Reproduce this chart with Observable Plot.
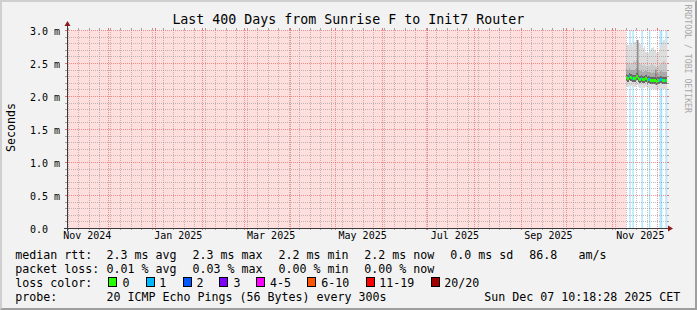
<!DOCTYPE html>
<html><head><meta charset="utf-8">
<script src="https://cdn.jsdelivr.net/npm/d3@7"></script>
<script src="https://cdn.jsdelivr.net/npm/@observablehq/plot@0.6"></script>
<style>
html,body{margin:0;padding:0;background:#f2f2f2;}
#wrap{position:relative;width:697px;height:310px;background:#f2f2f2;overflow:hidden;}
#wrap svg{position:absolute;left:0;top:0;}
#border{position:absolute;left:0;top:0;width:697px;height:310px;box-sizing:border-box;border-top:2px solid #cfcfcf;border-left:2px solid #cfcfcf;border-bottom:2px solid #9e9e9e;border-right:2px solid #9e9e9e;}
</style></head><body><div id="wrap"></div>
<script>
// ---------- text ----------
const title = "Last 400 Days from Sunrise F to Init7 Router";
const yTitle = "Seconds";
const watermark = "RRDTOOL / TOBI OETIKER";

// ---------- axes ----------
const timeDomain = [new Date("2024-11-03T12:00:00Z"), new Date("2025-12-07T09:18:28Z")];
const yTickValues = [0, 0.5, 1.0, 1.5, 2.0, 2.5, 3.0];
const yTickLabels = ["0.0", "0.5 m", "1.0 m", "1.5 m", "2.0 m", "2.5 m", "3.0 m"];
const xTickLabels = ["Nov 2024", "Jan 2025", "Mar 2025", "May 2025", "Jul 2025", "Sep 2025", "Nov 2025"];
const xTickLabelAt = ["2024-11-01T00:00Z", "2024-12-31T12:00Z", "2025-03-03T06:00Z", "2025-05-03T02:00Z",
                      "2025-07-03T10:00Z", "2025-09-03T14:00Z", "2025-11-03T17:00Z"];

// ---------- data (ms), one value per day, Nov 10 .. Dec 7 2025 ----------
const firstDay = "2025-11-10T00:00:00Z";
const median = [2.29, 2.28, 2.30, 2.29, 2.28, 2.27, 2.28, 2.30, 2.27, 2.26, 2.27, 2.26, 2.26, 2.27,
                2.25, 2.26, 2.25, 2.24, 2.25, 2.24, 2.23, 2.24, 2.25, 2.26, 2.25, 2.24, 2.25, 2.24];
const pingMax = [2.77, 2.77, 2.76, 2.79, 2.74, 2.82, 2.82, 2.85, 2.82, 2.79, 2.77, 2.73, 2.76, 2.67,
                 2.65, 2.65, 2.70, 2.73, 2.74, 2.70, 2.65, 2.67, 2.71, 2.77, 2.82, 2.85, 2.80, 2.77];
const ping90 = [2.52, 2.50, 2.51, 2.49, 2.50, 2.53, 2.52, 2.55, 2.51, 2.49, 2.50, 2.47, 2.48, 2.45,
                2.44, 2.46, 2.47, 2.48, 2.47, 2.45, 2.44, 2.45, 2.47, 2.49, 2.51, 2.53, 2.50, 2.49];
const ping75 = [2.41, 2.40, 2.42, 2.40, 2.40, 2.40, 2.41, 2.42, 2.39, 2.38, 2.39, 2.37, 2.38, 2.38,
                2.36, 2.37, 2.36, 2.35, 2.36, 2.35, 2.34, 2.35, 2.36, 2.38, 2.37, 2.36, 2.37, 2.36];
const ping25 = [2.23, 2.22, 2.24, 2.23, 2.22, 2.21, 2.22, 2.24, 2.21, 2.20, 2.21, 2.20, 2.20, 2.21,
                2.19, 2.20, 2.19, 2.18, 2.19, 2.18, 2.17, 2.18, 2.19, 2.20, 2.19, 2.18, 2.19, 2.18];
const pingMin = [2.15, 2.14, 2.16, 2.15, 2.14, 2.13, 2.14, 2.16, 2.13, 2.12, 2.13, 2.12, 2.12, 2.13,
                 2.11, 2.12, 2.11, 2.10, 2.11, 2.10, 2.09, 2.10, 2.11, 2.12, 2.11, 2.10, 2.11, 2.10];
const lostPings = [0, 0, 1, 0, 1, 0, 0, 0, 0, 0, 1, 0, 0, 0, 0, 1, 0, 0, 0, 0, 0, 0, 1, 1, 0, 0, 1, 0];
const spikeAt = ["2025-11-17T16:00Z", "2025-11-29T16:00Z"];
const spikeTop = [2.85, 2.40];
const spikeBottom = [2.32, 2.17];

// ---------- legend ----------
const lossColors = ["#26ff00", "#00b8ff", "#0059ff", "#7e00ff", "#ff00ff", "#ff5500", "#ff0000", "#a10000"];
const lossLabels = ["0", "1", "2", "3", "4-5", "6-10", "11-19", "20/20"];
const rttValues = [2.3, 2.3, 2.2, 2.2, 0.0];
const rttKinds = ["avg", "max", "min", "now", "sd"];
const rttRatio = "86.8";
const rttRatioUnit = "am/s";
const lossValues = [0.01, 0.03, 0.00, 0.00];
const lossKinds = ["avg", "max", "min", "now"];
const probeText = "20 ICMP Echo Pings (56 Bytes) every 300s";
const stampText = "Sun Dec 07 10:18:28 2025 CET";

// ---------- build ----------
const days = d3.utcDay.range(new Date(firstDay), timeDomain[1]);
const table = days.map((d, i) => ({
  d0: d, d1: i < days.length - 1 ? days[i + 1] : timeDomain[1],
  hi: pingMax[i], q90: ping90[i], q75: ping75[i], med: median[i], q25: ping25[i], lo: pingMin[i], loss: lostPings[i]
}));
const spikes = spikeAt.map((s, i) => ({date: new Date(s), top: spikeTop[i], bottom: spikeBottom[i]}));
const xMajor = d3.utcMonth.range(timeDomain[0], timeDomain[1]);
const xMinor = d3.utcMonday.range(timeDomain[0], timeDomain[1]).filter(d => d.getUTCDate() !== 1);
const yAll = d3.range(1, 31).map(i => i / 10);
const yMajor = yAll.filter(v => Math.abs(v * 2 - Math.round(v * 2)) < 1e-9);
const yMinor = yAll.filter(v => Math.abs(v * 2 - Math.round(v * 2)) > 1e-9);

const minorGrid = {stroke: "#8f8f8f", strokeOpacity: 0.55, strokeDasharray: "1,1", shapeRendering: "crispEdges"};
const majorGrid = {stroke: "#e85050", strokeOpacity: 0.6, strokeDasharray: "1,1", shapeRendering: "crispEdges"};
const mono = "DejaVu Sans Mono";

const plot = Plot.plot({
  width: 697, height: 310,
  marginLeft: 67, marginRight: 30, marginTop: 30, marginBottom: 82,
  style: {background: "transparent", fontFamily: mono, fontSize: "10px", color: "#000"},
  x: {type: "utc", domain: timeDomain, axis: null},
  y: {domain: [0, 3.0], axis: null},
  color: {type: "identity"},
  marks: [
    Plot.frame({fill: "#ffdede", stroke: "none"}),
    Plot.rect([table], {x1: t => t[0].d0, x2: () => timeDomain[1], fill: "#ffffff", shapeRendering: "crispEdges"}),
    Plot.ruleX(table.filter(r => r.loss > 0), {x: r => new Date((+r.d0 + +r.d1) / 2), stroke: "#a6e3fb", strokeWidth: 1.3}),
    Plot.rect(table, {x1: "d0", x2: "d1", y1: "lo", y2: "hi", fill: "#dddddd", shapeRendering: "crispEdges"}),
    Plot.rect(table, {x1: "d0", x2: "d1", y1: "q25", y2: "q90", fill: "#c9c9c9", shapeRendering: "crispEdges"}),
    Plot.rect(table, {x1: "d0", x2: "d1", y1: "q25", y2: "q75", fill: "#a9a9a9", shapeRendering: "crispEdges"}),
    Plot.ruleX(spikes, {x: "date", y1: "bottom", y2: "top", stroke: "#6a6a6a", strokeWidth: 1}),
    Plot.ruleY(table, {x1: "d0", x2: "d1", y: "med", stroke: "#676767", strokeWidth: 7, shapeRendering: "crispEdges"}),
    Plot.ruleY(table, {x1: "d0", x2: "d1", y: "med", stroke: r => lossColors[r.loss], strokeWidth: 3, shapeRendering: "crispEdges"}),
    Plot.ruleY(yMinor, minorGrid),
    Plot.ruleX(xMinor, minorGrid),
    Plot.ruleY(yMajor, majorGrid),
    Plot.ruleX(xMajor, majorGrid),
    Plot.ruleY([0], {stroke: "#3a3a3a", shapeRendering: "crispEdges"}),
    Plot.ruleX([timeDomain[0]], {stroke: "#3a3a3a", shapeRendering: "crispEdges"}),
    Plot.text(yTickValues, {y: d => d, text: (d, i) => yTickLabels[i], frameAnchor: "left", textAnchor: "start",
      dx: -37.5, dy: 1.1, fontSize: 10, fontFamily: mono, fill: "#000"}),
    Plot.text(xTickLabelAt, {x: d => new Date(d), text: (d, i) => xTickLabels[i], frameAnchor: "bottom", textAnchor: "start",
      dx: -0.6, dy: 10.1, fontSize: 10, fontFamily: mono, fill: "#000"})
  ]
});
document.getElementById("wrap").appendChild(plot);

// ticks and arrows on the axes (decoration)
const sx = plot.scale("x"), sy = plot.scale("y");
const X0 = 67, X1 = 667, Y0 = 228, Y1 = 30;
const g = d3.select(plot).append("g").attr("shape-rendering", "crispEdges");
const tick = (x1, y1, x2, y2, c) => g.append("line").attr("x1", x1).attr("y1", y1).attr("x2", x2).attr("y2", y2).attr("stroke", c);
const minorTickC = "rgba(143,143,143,0.8)", majorTickC = "rgba(232,80,80,0.8)";
yMinor.forEach(v => { const y = Math.round(sy.apply(v)) + 0.5; tick(X0 - 2, y, X0, y, minorTickC); tick(X1, y, X1 + 2, y, minorTickC); });
yMajor.forEach(v => { const y = Math.round(sy.apply(v)) + 0.5; tick(X0 - 2, y, X0, y, majorTickC); tick(X1, y, X1 + 2, y, majorTickC); });
xMinor.forEach(d => { const x = Math.round(sx.apply(d)) + 0.5; tick(x, Y0, x, Y0 + 2, minorTickC); tick(x, Y1 - 2, x, Y1, minorTickC); });
xMajor.forEach(d => { const x = Math.round(sx.apply(d)) + 0.5; tick(x, Y0, x, Y0 + 2, majorTickC); tick(x, Y1 - 2, x, Y1, majorTickC); });
tick(X0 - 3, Y0 + 0.5, X1 + 2, Y0 + 0.5, "#3a3a3a");
tick(X0 + 0.5, Y0 + 3, X0 + 0.5, Y1 - 5, "#3a3a3a");
d3.select(plot).append("path").attr("d", `M${X1 + 1},${Y0 - 2.5}L${X1 + 6},${Y0 + 0.5}L${X1 + 1},${Y0 + 3.5}Z`).attr("fill", "#8b1a1a");
d3.select(plot).append("path").attr("d", `M${X0 - 2.5},${Y1 - 4}L${X0 + 0.5},${Y1 - 9}L${X0 + 3.5},${Y1 - 4}Z`).attr("fill", "#8b1a1a");

// title, legend, side texts
const ov = d3.select("#wrap").append("svg").attr("width", 697).attr("height", 310)
  .style("font-family", "'DejaVu Sans Mono', monospace");
ov.append("text").attr("x", 348.3).attr("y", 24).attr("text-anchor", "middle").attr("font-size", 13.29).attr("fill", "#000").text(title);
ov.append("text").attr("transform", "translate(14.5,127.5) rotate(-90)").attr("text-anchor", "middle")
  .attr("font-size", 11.63).attr("fill", "#000").text(yTitle);
ov.append("text").attr("transform", "translate(684.5,4.5) rotate(90)").attr("text-anchor", "start")
  .attr("font-size", 8.2).attr("fill", "#a8a8a8").text(watermark);

const fs = 11.63;
const put = (x, y, s) => ov.append("text").attr("x", x).attr("y", y).attr("font-size", fs).attr("fill", "#000").text(s);
const rows = [259, 272.9, 286.7, 300.5];
const colX = [106.6, 192.6, 278.6, 364.3, 450.3];
put(15.3, rows[0], "median rtt:");
rttValues.forEach((v, i) => put(colX[i], rows[0], `${v.toFixed(1)} ms ${rttKinds[i]}`));
put(529.3, rows[0], rttRatio);
put(578.6, rows[0], rttRatioUnit);
put(15.3, rows[1], "packet loss:");
lossValues.forEach((v, i) => put(colX[i], rows[1], `${v.toFixed(2)} % ${lossKinds[i]}`));
put(15.3, rows[2], "loss color:");
const boxX = [108.5, 146, 183, 219.5, 256, 307.5, 366, 431];
const labX = [122.6, 159.3, 196.6, 233.6, 270, 321.3, 379.3, 444.3];
lossColors.forEach((c, i) => {
  ov.append("rect").attr("x", boxX[i]).attr("y", 277).attr("width", 8).attr("height", 9)
    .attr("fill", c).attr("stroke", "#000").attr("stroke-width", 1).attr("shape-rendering", "crispEdges");
  put(labX[i], rows[2], lossLabels[i]);
});
put(15.3, rows[3], "probe:");
put(106.6, rows[3], probeText);
put(484.3, rows[3], stampText);

d3.select("#wrap").append("div").attr("id", "border");
</script></body></html>
